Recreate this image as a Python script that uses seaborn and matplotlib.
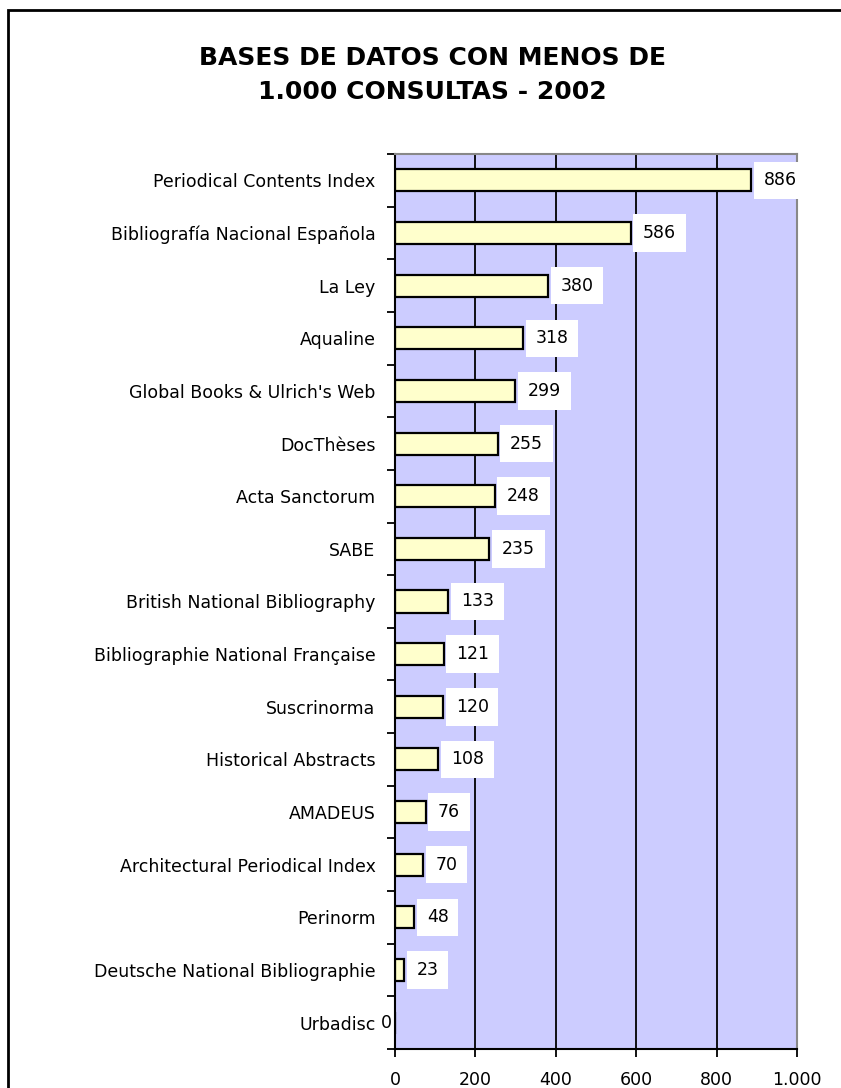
import matplotlib
matplotlib.use('Agg')
import matplotlib.pyplot as plt
import seaborn as sns
import pandas as pd
from matplotlib.patches import Rectangle
from matplotlib.ticker import FuncFormatter, MultipleLocator

# Data
bases = ['Periodical Contents Index', 'Bibliografía Nacional Española', 'La Ley',
         'Aqualine', "Global Books & Ulrich's Web", 'DocThèses', 'Acta Sanctorum',
         'SABE', 'British National Bibliography', 'Bibliographie National Française',
         'Suscrinorma', 'Historical Abstracts', 'AMADEUS',
         'Architectural Periodical Index', 'Perinorm', 'Deutsche National Bibliographie',
         'Urbadisc']
consultas = [886, 586, 380, 318, 299, 255, 248, 235, 133, 121, 120, 108, 76, 70, 48, 23, 0]

df = pd.DataFrame({'base': bases, 'consultas': consultas})

sns.set_style('white')
plt.rcParams['font.family'] = ['DejaVu Sans']
plt.rcParams['text.color'] = 'black'
plt.rcParams['xtick.color'] = 'black'
plt.rcParams['ytick.color'] = 'black'

fig = plt.figure(figsize=(8.41, 10.88), dpi=100)
ax = fig.add_axes([395 / 841, 1 - 1049 / 1088, 402 / 841, 895 / 1088])

sns.barplot(data=df, x='consultas', y='base', orient='h', color='#FFFFCC',
            edgecolor='black', linewidth=1.6, width=0.42, saturation=1, ax=ax)

ax.set_facecolor('#CCCCFF')
ax.set_xlim(0, 1000)
ax.set_ylim(len(bases) - 0.5, -0.5)
ax.xaxis.set_major_locator(MultipleLocator(200))
ax.xaxis.set_major_formatter(FuncFormatter(lambda v, p: f'{int(v):,}'.replace(',', '.')))
ax.grid(axis='x', color='black', linewidth=1.3)
ax.set_axisbelow(True)
ax.set_xlabel('')
ax.set_ylabel('')

for s in ['left', 'bottom']:
    ax.spines[s].set_color('black')
    ax.spines[s].set_linewidth(1.5)
for s in ['top', 'right']:
    ax.spines[s].set_color('#888888')
    ax.spines[s].set_linewidth(1.5)

# category ticks sit between bars
ax.set_yticks([i + 0.5 for i in range(-1, len(bases))], minor=True)
ax.tick_params(axis='y', which='major', length=0, pad=14, labelsize=12.5)
ax.tick_params(axis='y', which='minor', length=6, width=1.3, color='black', left=True)
ax.tick_params(axis='x', which='major', length=6, width=1.3, color='black', bottom=True,
               pad=10, labelsize=12.5)

# value labels in white boxes; a zero value sits just left of the axis
labels = [str(v) if v else '' for v in consultas]
ax.bar_label(ax.containers[0], labels=labels, padding=9, fontsize=12.5,
             bbox=dict(facecolor='white', edgecolor='none', pad=7))
for i, v in enumerate(consultas):
    if v == 0:
        ax.annotate('0', (v, i), xytext=(-2, 0), textcoords='offset points',
                    ha='right', va='center', fontsize=12.5)

fig.text(0.514, 0.947, 'BASES DE DATOS CON MENOS DE', ha='center', va='center',
         fontsize=18, fontweight='bold')
fig.text(0.514, 0.915, '1.000 CONSULTAS - 2002', ha='center', va='center',
         fontsize=18, fontweight='bold')

fig.add_artist(Rectangle((8 / 841, -0.05), 1.2, 1 - 10 / 1088 + 0.05,
                         transform=fig.transFigure, fill=False,
                         edgecolor='black', linewidth=2))

fig.savefig('out.png', dpi=100)
